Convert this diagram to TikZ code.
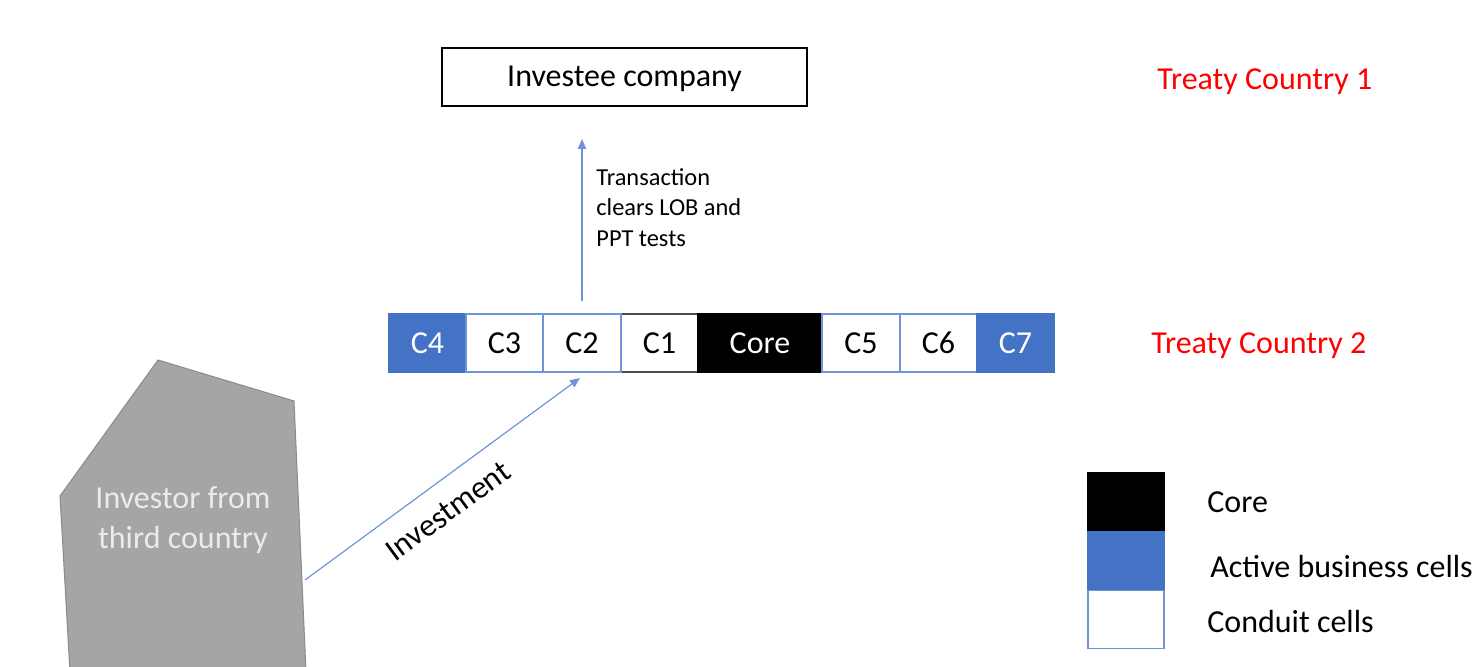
\documentclass[tikz,border=0pt]{standalone}
\usepackage{fontspec}
\setmainfont{Carlito}
\usetikzlibrary{arrows.meta}
\definecolor{msblue}{HTML}{4472C4}
\definecolor{lineblue}{HTML}{6F95D6}
\definecolor{shapegray}{HTML}{A5A5A5}
\definecolor{shapeedge}{HTML}{8A8A8A}
\definecolor{tcred}{HTML}{FF0000}
\tikzset{
  base/.style={font=\fontsize{16}{19.5}\selectfont, inner sep=0pt},
  cellbox/.style={base, minimum height=29pt, draw=lineblue, line width=0.6pt},
  conduit/.style={cellbox, fill=white, text=black},
  active/.style={cellbox, fill=msblue, text=white, draw=msblue},
  corebox/.style={cellbox, fill=black, text=white, draw=black},
  legbox/.style={minimum width=38pt, minimum height=29pt, inner sep=0pt, line width=0.6pt},
  flow/.style={draw=lineblue, line width=0.6pt, -{Triangle[length=5pt,width=4.2pt]}},
  country/.style={base, text=tcred},
}
\begin{document}
\begin{tikzpicture}[x=0.5pt,y=-0.5pt]
\useasboundingbox (0,0) rectangle (1481,667);
\fill[white] (0,0) rectangle (1481,667);

% Investee company
\node[base, draw=black, line width=0.8pt, minimum width=182.5pt, minimum height=29pt, text depth=1pt] (investee) at (624.5,77) {Investee company};

% Treaty country labels
\node[country, anchor=west] (tc1) at (1157,82) {Treaty Country 1};
\node[country, anchor=west] (tc2) at (1151,346) {Treaty Country 2};

% Cells
\node[conduit, minimum width=38.5pt, draw=black!70] (c1) at (659.5,343) {C1};
\node[active, minimum width=38.5pt] (c4) at (427.5,343) {C4};
\node[conduit, minimum width=38.5pt] (c3) at (504.5,343) {C3};
\node[conduit, minimum width=39pt] (c2) at (582,343) {C2};
\node[corebox, minimum width=62pt] (core) at (760,343) {Core};
\node[conduit, minimum width=39pt] (c5) at (861,343) {C5};
\node[conduit, minimum width=38.5pt] (c6) at (938.5,343) {C6};
\node[active, minimum width=38.5pt] (c7) at (1015.5,343) {C7};

% Transaction arrow
\coordinate (tstart) at (582,301);
\coordinate (tend) at (582,139);
\draw[flow] (tstart) -- (tend);
\node[anchor=north west, align=left, inner sep=0pt, font=\fontsize{12.2}{15.25}\selectfont] (txt) at (596,168) {Transaction\\clears LOB and\\PPT tests};

% Investor shape
\filldraw[fill=shapegray, draw=shapeedge, line width=0.5pt] (158,360) -- (294,401) -- (306,672) -- (70,672) -- (60,496) -- cycle;
\node[base, align=center, text=white!92!black, font=\fontsize{16}{20}\selectfont] (investor) at (183,520) {Investor from\\third country};

% Investment arrow
\coordinate (istart) at (305,580);
\coordinate (iend) at (580,378);
\draw[flow] (istart) -- (iend);
\node[base, rotate=36.3] (invlabel) at (448,511) {Investment};

% Legend
\node[legbox, fill=black, draw=black] (lcore) at (1126,502) {};
\node[legbox, fill=msblue, draw=msblue] (lactive) at (1126,561) {};
\node[legbox, fill=white, draw=lineblue] (lconduit) at (1126,619.5) {};
\node[base, anchor=west] (tcore) at (1207,502) {Core};
\node[base, anchor=west] (tactive) at (1210,567) {Active business cells};
\node[base, anchor=west] (tconduit) at (1207,622) {Conduit cells};
\end{tikzpicture}
\end{document}
